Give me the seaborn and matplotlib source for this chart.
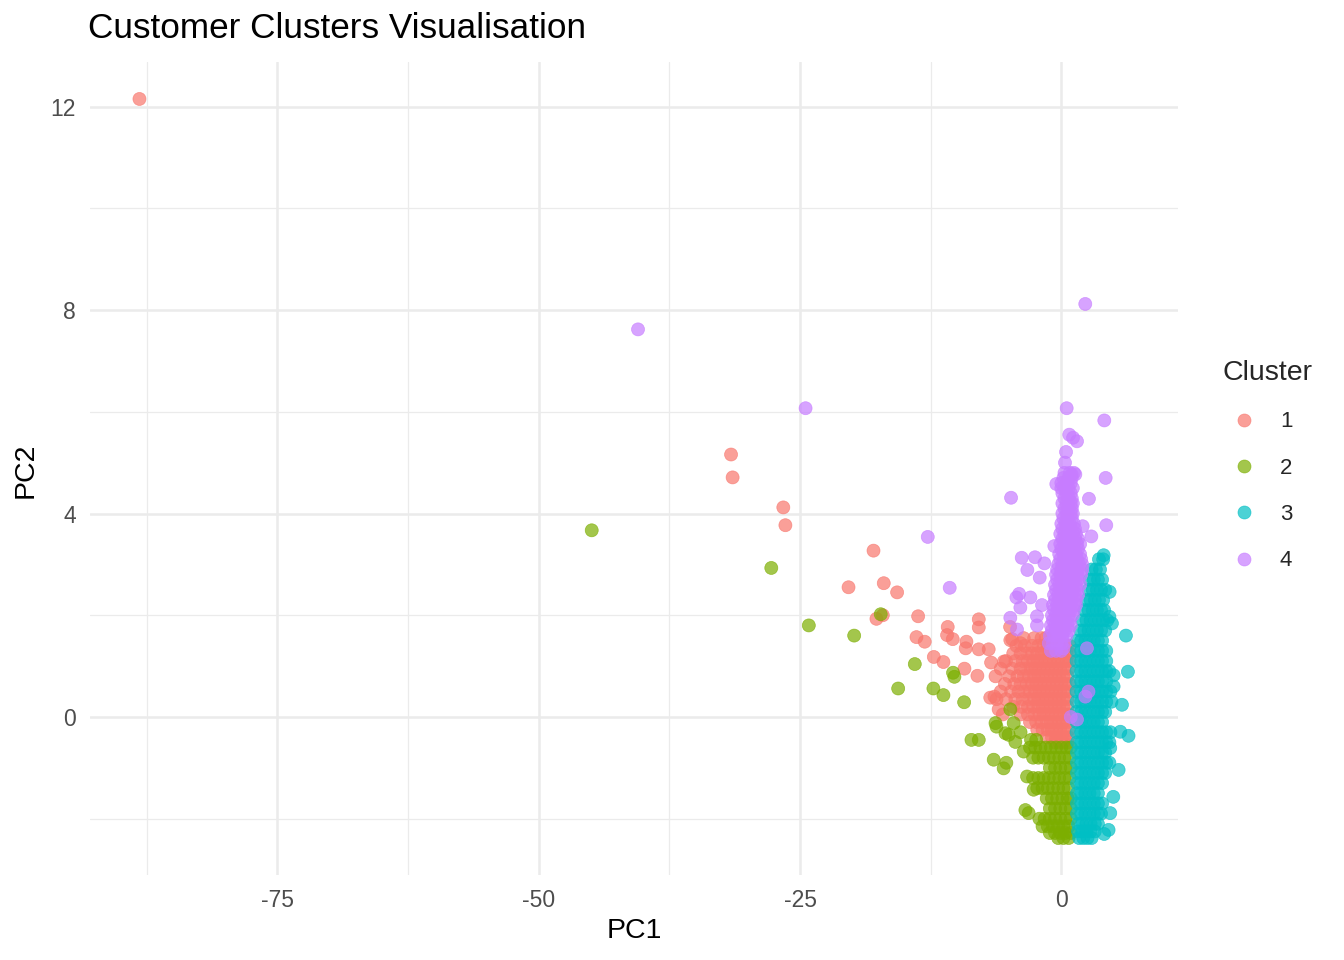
import pandas as pd
import matplotlib
matplotlib.use('Agg')
import matplotlib.pyplot as plt
import seaborn as sns

# Cluster colours (ggplot hue palette)
palette = {'1': '#F8766D', '2': '#7CAE00', '3': '#00BFC4', '4': '#C77CFF'}

# Dense core of each cluster: (PC2, [PC1 values])
c1_rows = [
    (1.55, [-3.6, -2.6, -1.9, -1.5]),
    (1.4, [-4.3, -3.5, -2.8, -2.2, -1.7, -1.3, -0.2, 0.4, 0.8]),
    (1.25, [-4.6, -3.9, -3.3, -2.8, -2.3, -1.9, -1.5, -1.1, -0.7, -0.3, 0.1, 0.5, 0.8]),
    (1.1, [-5.3, -4.4, -3.7, -3.2, -2.7, -2.3, -1.9, -1.5, -1.1, -0.7, -0.3, 0.1, 0.5, 0.8]),
    (0.95, [-5.8, -4.7, -3.9, -3.4, -2.9, -2.5, -2.1, -1.7, -1.3, -0.9, -0.5, -0.1, 0.3, 0.7]),
    (0.8, [-6.3, -5.0, -4.2, -3.6, -3.1, -2.6, -2.2, -1.8, -1.4, -1.0, -0.6, -0.2, 0.2, 0.6]),
    (0.65, [-5.4, -4.5, -3.9, -3.3, -2.8, -2.4, -2.0, -1.6, -1.2, -0.8, -0.4, 0.0, 0.4, 0.8]),
    (0.5, [-5.8, -4.8, -4.1, -3.5, -3.0, -2.5, -2.1, -1.7, -1.3, -0.9, -0.5, -0.1, 0.3, 0.7]),
    (0.35, [-6.2, -5.3, -4.4, -3.7, -3.1, -2.6, -2.2, -1.8, -1.4, -1.0, -0.6, -0.2, 0.2, 0.6]),
    (0.2, [-4.6, -3.8, -3.2, -2.7, -2.2, -1.8, -1.4, -1.0, -0.6, -0.2, 0.2, 0.6]),
    (0.05, [-5.6, -3.9, -3.2, -2.6, -2.1, -1.7, -1.3, -0.9, -0.5, -0.1, 0.3, 0.7]),
    (-0.1, [-3.0, -2.4, -1.9, -1.4, -1.0, -0.6, -0.2, 0.2, 0.6]),
    (-0.25, [-2.3, -1.8, -1.3, -0.9, -0.5, -0.1, 0.3, 0.7]),
    (-0.4, [-1.4, -0.9, -0.5, -0.1, 0.3, 0.7]),
    (-0.5, [-0.6, -0.2, 0.2, 0.6]),
]
c1_spread = [
    (-88.2, 12.15), (-31.6, 5.16), (-31.45, 4.71), (-26.6, 4.12), (-26.4, 3.77),
    (-17.97, 3.27), (-20.36, 2.55), (-16.99, 2.63), (-15.71, 2.45), (-17.69, 1.93),
    (-17.08, 2.0), (-13.7, 1.98), (-10.87, 1.77), (-10.93, 1.61), (-13.86, 1.57),
    (-13.07, 1.48), (-10.39, 1.53), (-9.08, 1.48), (-9.15, 1.35), (-7.9, 1.92),
    (-7.9, 1.76), (-7.9, 1.33), (-12.2, 1.18), (-11.28, 1.08), (-9.27, 0.95),
    (-8.03, 0.81), (-6.95, 1.33), (-6.72, 1.07), (-5.5, 1.09), (-4.88, 1.51),
    (-4.9, 1.77), (-4.7, 1.53), (-3.9, 1.45), (-6.8, 0.38), (-6.4, 0.4), (-6.0, 0.15),
]

c2_rows = [
    (-0.45, [-2.9, -2.4]),
    (-0.6, [-3.0, -2.5, -2.0, -1.5, -1.0, -0.5, 0.0, 0.5, 0.9]),
    (-0.8, [-2.7, -2.2, -1.7, -1.2, -0.7, -0.2, 0.3, 0.8]),
    (-1.0, [-1.1, -0.6, -0.1, 0.4, 0.9]),
    (-1.2, [-2.7, -2.2, -1.7, -1.2, -0.7, -0.2, 0.3, 0.8]),
    (-1.4, [-2.3, -1.8, -1.3, -0.8, -0.3, 0.2, 0.7]),
    (-1.6, [-1.4, -0.9, -0.4, 0.1, 0.6, 0.9]),
    (-1.8, [-1.1, -0.6, -0.1, 0.4, 0.9]),
    (-2.0, [-2.1, -1.6, -1.1, -0.6, -0.1, 0.4, 0.9]),
    (-2.15, [-1.8, -1.3, -0.8, -0.3, 0.2, 0.7]),
    (-2.28, [-1.1, -0.6, -0.1, 0.4, 0.9]),
    (-2.38, [-0.3, 0.2, 0.7]),
]
c2_spread = [
    (-44.93, 3.67), (-27.75, 2.93), (-24.16, 1.80), (-19.82, 1.60), (-17.28, 2.02),
    (-14.02, 1.04), (-10.36, 0.87), (-10.23, 0.79), (-15.61, 0.56), (-12.24, 0.56),
    (-11.28, 0.43), (-9.3, 0.29), (-8.6, -0.45), (-7.9, -0.45), (-6.3, -0.12),
    (-6.2, -0.19), (-4.56, -0.12), (-6.47, -0.84), (-5.26, -0.90), (-5.52, -1.01),
    (-4.88, 0.15), (-5.04, -0.35), (-4.4, -0.49), (-3.6, -0.68), (-3.28, -1.17),
    (-3.44, -1.83), (-3.13, -1.89), (-2.65, -1.43), (-5.35, -0.32), (-3.9, -0.3),
]

c3_rows = [
    (3.1, [3.6, 4.0]),
    (2.9, [2.9, 3.3, 3.7]),
    (2.7, [2.7, 3.1, 3.5, 3.9]),
    (2.5, [2.6, 3.0, 3.4, 3.8, 4.2]),
    (2.3, [2.4, 2.8, 3.2, 3.6, 4.0]),
    (2.1, [2.2, 2.6, 3.0, 3.4, 3.8, 4.1]),
    (1.9, [2.0, 2.4, 2.8, 3.2, 3.6, 4.0, 4.4]),
    (1.7, [1.8, 2.2, 2.6, 3.0, 3.4, 3.8, 4.2]),
    (1.5, [1.5, 1.9, 2.3, 2.7, 3.1, 3.5, 3.9]),
    (1.3, [1.45, 1.9, 2.3, 2.7, 3.1, 3.5, 3.9, 4.3]),
    (1.1, [1.45, 1.9, 2.3, 2.7, 3.1, 3.5, 3.9, 4.3]),
    (0.9, [1.45, 1.9, 2.3, 2.7, 3.1, 3.5, 3.9, 4.3, 4.6]),
    (0.7, [1.45, 1.9, 2.3, 2.7, 3.1, 3.5, 3.9, 4.3]),
    (0.5, [1.45, 1.9, 2.3, 2.7, 3.1, 3.5, 3.9, 4.3, 4.7]),
    (0.3, [1.45, 1.9, 2.3, 2.7, 3.1, 3.5, 3.9, 4.3, 4.8]),
    (0.1, [1.45, 1.9, 2.3, 2.7, 3.1, 3.5, 3.9, 4.2]),
    (-0.1, [1.45, 1.9, 2.3, 2.7, 3.1, 3.5, 3.9]),
    (-0.3, [1.45, 1.9, 2.3, 2.7, 3.1, 3.5, 3.9, 4.3, 4.7]),
    (-0.5, [1.5, 1.9, 2.3, 2.7, 3.1, 3.5, 3.9, 4.3, 4.6]),
    (-0.7, [1.5, 1.9, 2.3, 2.7, 3.1, 3.5, 3.9, 4.2]),
    (-0.9, [1.5, 1.9, 2.3, 2.7, 3.1, 3.5, 3.9, 4.3, 4.6]),
    (-1.1, [1.5, 1.9, 2.3, 2.7, 3.1, 3.5, 3.9, 4.2]),
    (-1.3, [1.5, 1.9, 2.3, 2.7, 3.1, 3.5, 3.9]),
    (-1.5, [1.5, 1.9, 2.3, 2.7, 3.1, 3.5]),
    (-1.7, [1.5, 1.9, 2.3, 2.7, 3.1, 3.5, 3.9]),
    (-1.9, [1.5, 1.9, 2.3, 2.7, 3.1, 3.5, 3.8]),
    (-2.1, [1.6, 2.0, 2.4, 2.8, 3.2, 3.5]),
    (-2.25, [1.6, 2.0, 2.4, 2.8, 3.2]),
    (-2.38, [1.7, 2.1, 2.5, 2.9]),
]
c3_spread = [
    (4.05, 3.18), (4.62, 2.46), (4.6, 1.97), (4.84, 1.84), (6.18, 1.60), (6.37, 0.89),
    (5.0, 0.82), (5.0, 0.6), (5.8, 0.24), (6.43, -0.37), (5.64, -0.29), (4.68, -0.61),
    (5.48, -1.04), (4.97, -1.57), (4.68, -1.89), (4.52, -2.22), (4.1, -2.3),
]

c4_rows = [
    (4.8, [0.3, 0.8, 1.2]),
    (4.7, [0.2, 0.7, 1.0]),
    (4.6, [0.0, 0.5, 0.9]),
    (4.5, [0.0, 0.3, 0.7, 1.1]),
    (4.4, [0.1, 0.5, 0.9]),
    (4.3, [0.3, 0.7, 1.0]),
    (4.2, [0.1, 0.5, 0.9, 1.1]),
    (4.1, [0.3, 0.7, 1.0]),
    (4.0, [0.1, 0.5, 0.9, 1.1]),
    (3.9, [0.2, 0.6, 1.0]),
    (3.8, [0.0, 0.4, 0.8, 1.2]),
    (3.7, [0.1, 0.5, 0.9, 1.3]),
    (3.6, [-0.1, 0.3, 0.7, 1.1, 1.4]),
    (3.5, [0.1, 0.5, 0.9, 1.3, 1.6]),
    (3.4, [-0.1, 0.3, 0.7, 1.1, 1.5, 1.8]),
    (3.3, [0.0, 0.4, 0.8, 1.2, 1.6]),
    (3.2, [-0.2, 0.2, 0.6, 1.0, 1.4, 1.8]),
    (3.1, [-0.1, 0.3, 0.7, 1.1, 1.5, 1.9]),
    (3.0, [-0.3, 0.1, 0.5, 0.9, 1.3, 1.7, 2.0]),
    (2.9, [-0.4, 0.0, 0.4, 0.8, 1.2, 1.6, 2.0]),
    (2.8, [-0.5, -0.1, 0.3, 0.7, 1.1, 1.5, 1.9]),
    (2.7, [-0.4, 0.0, 0.4, 0.8, 1.2, 1.6]),
    (2.6, [-0.6, -0.2, 0.2, 0.6, 1.0, 1.4, 1.8]),
    (2.5, [-0.5, -0.1, 0.3, 0.7, 1.1, 1.5]),
    (2.4, [-0.7, -0.3, 0.1, 0.5, 0.9, 1.3, 1.6]),
    (2.3, [-0.6, -0.2, 0.2, 0.6, 1.0, 1.4]),
    (2.2, [-0.8, -0.4, 0.0, 0.4, 0.8, 1.2, 1.4]),
    (2.1, [-0.7, -0.3, 0.1, 0.5, 0.9, 1.2]),
    (2.0, [-0.9, -0.5, -0.1, 0.3, 0.7, 1.1]),
    (1.9, [-0.8, -0.4, 0.0, 0.4, 0.8]),
    (1.8, [-1.0, -0.6, -0.2, 0.2, 0.6, 0.9]),
    (1.7, [-0.9, -0.5, -0.1, 0.3, 0.7]),
    (1.6, [-1.1, -0.7, -0.3, 0.1, 0.5]),
    (1.45, [-1.2, -0.8, -0.4, 0.0, 0.3]),
    (1.3, [-1.0, -0.5, 0.0]),
]
c4_spread = [
    (-40.5, 7.62), (-24.47, 6.07), (-12.78, 3.54), (-10.68, 2.54), (2.29, 8.12),
    (0.51, 6.07), (4.11, 5.83), (0.76, 5.55), (1.12, 5.49), (1.5, 5.42), (0.45, 5.21),
    (0.35, 5.0), (4.24, 4.70), (-4.81, 4.31), (2.64, 4.29), (4.3, 3.77), (0.99, 4.77),
    (1.34, 4.77), (-0.48, 4.58), (-3.79, 3.13), (-2.52, 3.14), (-1.62, 3.02),
    (-3.25, 2.89), (-2.07, 2.74), (2.04, 3.75), (2.87, 3.55), (-0.67, 3.36),
    (-4.04, 2.42), (-4.3, 2.35), (-2.96, 2.35), (-3.92, 2.15), (-1.85, 2.2),
    (-4.88, 1.95), (-2.33, 1.98), (-2.33, 1.80), (-4.24, 1.72), (2.45, 1.35),
    (2.3, 0.4), (0.9, 0.0), (1.5, -0.05), (0.2, 1.35), (2.6, 0.5),
]


def cluster_frame(rows, spread, label):
    pts = [(x, y) for y, xs in rows for x in xs] + list(spread)
    out = pd.DataFrame(pts, columns=['PC1', 'PC2'])
    out['Cluster'] = label
    return out


df = pd.concat([
    cluster_frame(c1_rows, c1_spread, '1'),
    cluster_frame(c2_rows, c2_spread, '2'),
    cluster_frame(c3_rows, c3_spread, '3'),
    cluster_frame(c4_rows, c4_spread, '4'),
], ignore_index=True)

sns.set_theme(style='white')
plt.rcParams['font.family'] = ['Liberation Sans', 'DejaVu Sans']
plt.rcParams['axes.unicode_minus'] = False

fig = plt.figure(figsize=(13.44, 9.6), dpi=100)
ax = fig.add_axes([90 / 1344, 85 / 960, 1088 / 1344, 813 / 960])

sns.scatterplot(data=df, x='PC1', y='PC2', hue='Cluster', hue_order=['1', '2', '3', '4'],
                palette=palette, s=88, alpha=0.7, edgecolor='face', linewidth=0.5, ax=ax)

# ggplot-style 5% expansion of the data range
xr = df['PC1'].max() - df['PC1'].min()
yr = df['PC2'].max() - df['PC2'].min()
ax.set_xlim(df['PC1'].min() - 0.05 * xr, df['PC1'].max() + 0.05 * xr)
ax.set_ylim(df['PC2'].min() - 0.05 * yr, df['PC2'].max() + 0.05 * yr)

ax.set_xticks([-75, -50, -25, 0])
ax.set_xticks([-87.5, -62.5, -37.5, -12.5], minor=True)
ax.set_yticks([0, 4, 8, 12])
ax.set_yticks([-2, 2, 6, 10], minor=True)
ax.grid(True, which='major', color='#EBEBEB', linewidth=1.8)
ax.grid(True, which='minor', color='#EBEBEB', linewidth=0.9)
ax.set_axisbelow(True)
for sp in ax.spines.values():
    sp.set_visible(False)
ax.tick_params(axis='both', which='both', length=0, labelsize=16.5, labelcolor='#4D4D4D')
ax.tick_params(axis='x', pad=10)
ax.tick_params(axis='y', pad=10)

ax.set_xlabel('PC1', fontsize=20.5, color='black')
ax.set_ylabel('PC2', fontsize=20.5, color='black')
ax.xaxis.set_label_coords((634 - 90) / 1088, (875 - 931) / 813)
ax.xaxis.label.set_va('center')
ax.yaxis.set_label_coords((26 - 90) / 1088, (875 - 470) / 813)
ax.yaxis.label.set_va('center')

fig.text(88 / 1344, 1 - 29 / 960, 'Customer Clusters Visualisation', fontsize=25.3,
         ha='left', va='center', color='black')

sns.move_legend(ax, 'upper left', bbox_to_anchor=(1.0 + 44 / 1088, (875 - 360) / 813),
                frameon=False, title='Cluster', fontsize=16, title_fontsize=20.5,
                alignment='left', handlelength=2.0, handletextpad=0.6,
                labelspacing=1.14, borderaxespad=0, borderpad=0)

fig.savefig('out.png', dpi=100)
